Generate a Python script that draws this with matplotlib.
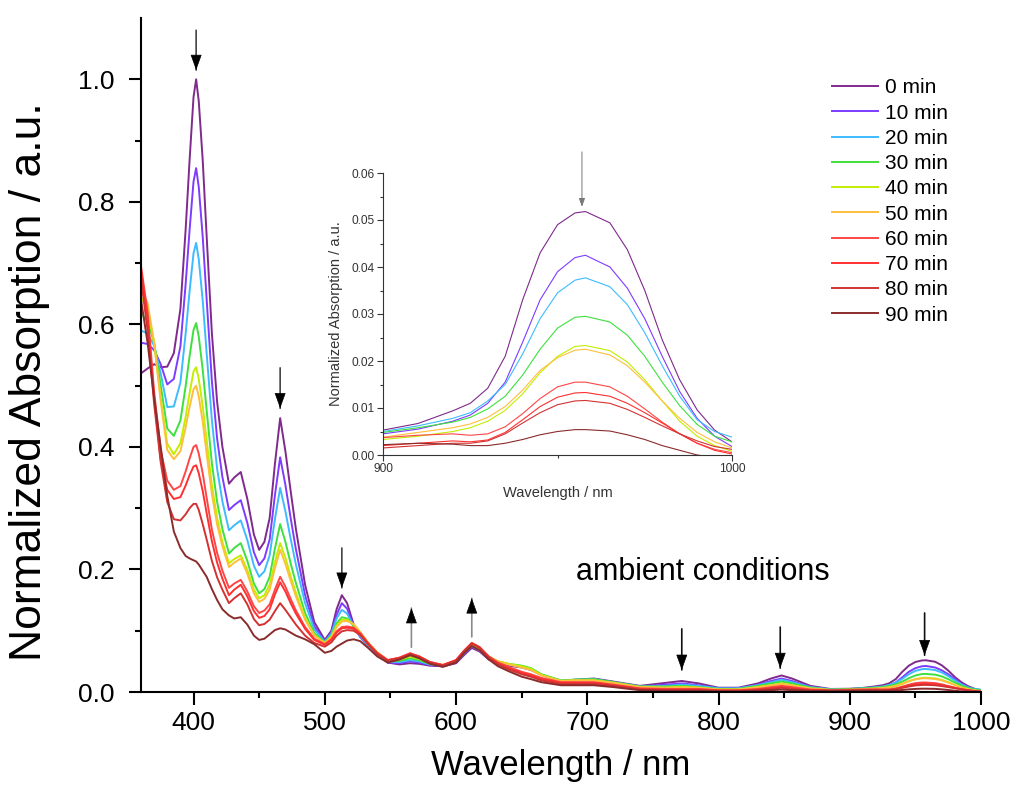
import numpy as np
import matplotlib.pyplot as plt

plt.rcParams['font.family'] = ['Liberation Sans', 'DejaVu Sans']

# wavelength grid (nm) used for the read-off values
wavelength = [360, 365, 370, 375, 380, 385,
              390, 394, 397, 400, 402, 404, 407, 410, 414, 418, 422, 427,
              431, 436, 441, 446, 450, 454, 458, 462, 466, 470, 474, 478, 485, 492, 500,
              505, 509, 513, 517, 522, 527, 533, 540, 548, 557, 565, 572, 580, 590, 600,
              606, 612, 618, 625, 632, 640, 650, 657, 665, 680,
              690, 705, 720, 740, 760, 772, 785, 800, 815, 830, 840, 848, 856, 870, 885, 900,
              910, 920, 925, 930, 935, 940, 945, 950, 955, 958, 965, 970, 975, 980, 985, 990, 995, 1000]

times = ["0 min", "10 min", "20 min", "30 min", "40 min",
         "50 min", "60 min", "70 min", "80 min", "90 min"]
colors = ["#7f2a8c", "#7d3cff", "#3cbcff", "#3ee03e", "#c2ee00",
          "#ffbf3c", "#ff4646", "#ff3030", "#d23232", "#8b2c2c"]

abs_0 = [0.52, 0.528, 0.535, 0.53, 0.531, 0.553,
         0.625, 0.755, 0.868, 0.971, 1.0, 0.964, 0.868, 0.744, 0.585, 0.473, 0.40, 0.34,
         0.35, 0.359, 0.315, 0.257, 0.232, 0.245, 0.284, 0.372, 0.447, 0.393, 0.328, 0.266, 0.175, 0.114, 0.085,
         0.1, 0.135, 0.158, 0.145, 0.11, 0.09, 0.075, 0.062, 0.048, 0.045, 0.047, 0.046, 0.043, 0.042, 0.047,
         0.06, 0.072, 0.066, 0.053, 0.047, 0.043, 0.04, 0.036, 0.028, 0.018,
         0.02, 0.022, 0.017, 0.01, 0.015, 0.018, 0.014, 0.007, 0.007, 0.014, 0.022, 0.027, 0.022, 0.01, 0.005, 0.0053,
         0.0067, 0.0094, 0.011, 0.0142, 0.021, 0.033, 0.043, 0.049, 0.0515, 0.0518, 0.0494, 0.0437, 0.035, 0.0245, 0.016, 0.0096, 0.0053, 0.0028]
abs_10 = [0.57, 0.568, 0.558, 0.535, 0.502, 0.511,
          0.564, 0.666, 0.754, 0.833, 0.855, 0.824, 0.743, 0.641, 0.507, 0.413, 0.351, 0.297,
          0.305, 0.313, 0.276, 0.228, 0.207, 0.218, 0.249, 0.321, 0.383, 0.338, 0.284, 0.233, 0.158, 0.107, 0.083,
          0.097, 0.126, 0.145, 0.136, 0.108, 0.09, 0.075, 0.062, 0.048, 0.047, 0.05, 0.048, 0.044, 0.042, 0.048,
          0.062, 0.074, 0.067, 0.054, 0.048, 0.044, 0.041, 0.037, 0.028, 0.017,
          0.019, 0.021, 0.016, 0.009, 0.012, 0.014, 0.011, 0.006, 0.006, 0.012, 0.018, 0.022, 0.018, 0.008, 0.004, 0.0045,
          0.0055, 0.0072, 0.0085, 0.011, 0.0155, 0.024, 0.033, 0.039, 0.042, 0.0425, 0.040, 0.0355, 0.029, 0.021, 0.0135, 0.0078, 0.004, 0.0018]
abs_20 = [0.59, 0.585, 0.565, 0.52, 0.465, 0.466,
          0.505, 0.585, 0.654, 0.716, 0.733, 0.706, 0.639, 0.553, 0.443, 0.364, 0.311, 0.264,
          0.272, 0.28, 0.248, 0.206, 0.188, 0.197, 0.223, 0.282, 0.333, 0.295, 0.25, 0.208, 0.145, 0.102, 0.082,
          0.095, 0.12, 0.134, 0.128, 0.107, 0.091, 0.076, 0.062, 0.049, 0.049, 0.052, 0.05, 0.045, 0.043, 0.049,
          0.063, 0.075, 0.068, 0.055, 0.049, 0.045, 0.042, 0.038, 0.028, 0.018,
          0.02, 0.021, 0.016, 0.009, 0.01, 0.012, 0.01, 0.006, 0.006, 0.011, 0.016, 0.02, 0.016, 0.008, 0.0045, 0.005,
          0.0062, 0.0078, 0.009, 0.0115, 0.015, 0.0215, 0.029, 0.0345, 0.0372, 0.0377, 0.0358, 0.032, 0.026, 0.019, 0.0125, 0.0075, 0.005, 0.0038]
abs_30 = [0.618, 0.605, 0.57, 0.5, 0.43, 0.418,
          0.443, 0.499, 0.548, 0.591, 0.602, 0.58, 0.526, 0.46, 0.373, 0.31, 0.266, 0.226,
          0.235, 0.243, 0.214, 0.177, 0.161, 0.168, 0.188, 0.234, 0.274, 0.245, 0.21, 0.178, 0.129, 0.096, 0.081,
          0.092, 0.112, 0.122, 0.12, 0.108, 0.094, 0.078, 0.063, 0.05, 0.051, 0.055, 0.052, 0.046, 0.043, 0.05,
          0.064, 0.077, 0.07, 0.057, 0.05, 0.046, 0.043, 0.039, 0.029, 0.019,
          0.02, 0.021, 0.016, 0.009, 0.009, 0.01, 0.008, 0.005, 0.005, 0.01, 0.014, 0.017, 0.014, 0.007, 0.004, 0.0048,
          0.0058, 0.007, 0.008, 0.0098, 0.0125, 0.017, 0.0225, 0.027, 0.0293, 0.0295, 0.0283, 0.0255, 0.021, 0.0155, 0.0105, 0.0065, 0.004, 0.0028]
abs_40 = [0.645, 0.625, 0.57, 0.48, 0.405, 0.388,
          0.406, 0.449, 0.488, 0.523, 0.53, 0.511, 0.466, 0.411, 0.337, 0.284, 0.245, 0.21,
          0.217, 0.223, 0.199, 0.167, 0.153, 0.158, 0.175, 0.212, 0.243, 0.219, 0.189, 0.162, 0.121, 0.093, 0.08,
          0.09, 0.108, 0.118, 0.118, 0.11, 0.097, 0.08, 0.064, 0.051, 0.053, 0.058, 0.054, 0.047, 0.044, 0.051,
          0.065, 0.078, 0.071, 0.057, 0.05, 0.046, 0.042, 0.038, 0.028, 0.018,
          0.019, 0.019, 0.015, 0.008, 0.007, 0.008, 0.007, 0.004, 0.004, 0.008, 0.011, 0.014, 0.011, 0.005, 0.003, 0.0033,
          0.004, 0.005, 0.0058, 0.0072, 0.0095, 0.013, 0.0175, 0.021, 0.0231, 0.0233, 0.0222, 0.0198, 0.016, 0.0115, 0.0072, 0.004, 0.002, 0.0008]
abs_50 = [0.66, 0.635, 0.57, 0.475, 0.395, 0.38,
          0.393, 0.432, 0.465, 0.494, 0.5, 0.482, 0.441, 0.389, 0.323, 0.273, 0.238, 0.204,
          0.211, 0.218, 0.193, 0.161, 0.147, 0.152, 0.167, 0.202, 0.232, 0.209, 0.182, 0.156, 0.118, 0.092, 0.08,
          0.089, 0.106, 0.115, 0.116, 0.111, 0.098, 0.081, 0.065, 0.052, 0.054, 0.06, 0.056, 0.048, 0.044, 0.051,
          0.066, 0.079, 0.072, 0.058, 0.05, 0.045, 0.04, 0.036, 0.027, 0.018,
          0.019, 0.019, 0.015, 0.008, 0.007, 0.008, 0.007, 0.004, 0.004, 0.008, 0.011, 0.013, 0.011, 0.006, 0.0035, 0.0038,
          0.0048, 0.0058, 0.0066, 0.008, 0.0103, 0.0138, 0.018, 0.0207, 0.0223, 0.0225, 0.0213, 0.019, 0.0155, 0.0115, 0.0078, 0.0048, 0.0028, 0.0015]
abs_60 = [0.695, 0.62, 0.49, 0.395, 0.345, 0.33,
          0.336, 0.36, 0.381, 0.4, 0.403, 0.389, 0.357, 0.317, 0.265, 0.227, 0.198, 0.17,
          0.177, 0.183, 0.164, 0.14, 0.129, 0.133, 0.143, 0.167, 0.188, 0.172, 0.152, 0.133, 0.106, 0.087, 0.078,
          0.086, 0.099, 0.106, 0.107, 0.105, 0.096, 0.08, 0.064, 0.052, 0.056, 0.063, 0.058, 0.049, 0.044, 0.052,
          0.067, 0.08, 0.073, 0.058, 0.048, 0.041, 0.033, 0.029, 0.023, 0.016,
          0.016, 0.016, 0.012, 0.006, 0.005, 0.005, 0.005, 0.003, 0.003, 0.005, 0.008, 0.01, 0.008, 0.004, 0.003, 0.0037,
          0.0042, 0.0045, 0.0042, 0.0045, 0.006, 0.0088, 0.012, 0.0145, 0.0155, 0.0155, 0.0145, 0.0125, 0.0098, 0.007, 0.0045, 0.0025, 0.0012, 0.0005]
abs_70 = [0.69, 0.61, 0.48, 0.38, 0.33, 0.315,
          0.318, 0.337, 0.354, 0.368, 0.37, 0.357, 0.328, 0.292, 0.246, 0.211, 0.185, 0.158,
          0.167, 0.175, 0.156, 0.132, 0.121, 0.124, 0.135, 0.159, 0.179, 0.164, 0.145, 0.128, 0.103, 0.085, 0.077,
          0.085, 0.097, 0.104, 0.105, 0.103, 0.095, 0.079, 0.063, 0.052, 0.056, 0.063, 0.058, 0.049, 0.044, 0.052,
          0.067, 0.08, 0.073, 0.057, 0.047, 0.039, 0.031, 0.027, 0.021, 0.015,
          0.015, 0.015, 0.011, 0.005, 0.004, 0.004, 0.004, 0.002, 0.002, 0.004, 0.006, 0.008, 0.006, 0.003, 0.002, 0.002,
          0.0025, 0.003, 0.0028, 0.0032, 0.0048, 0.0075, 0.0103, 0.0123, 0.0132, 0.0133, 0.0125, 0.011, 0.009, 0.0068, 0.0045, 0.0025, 0.001, 0.0002]
abs_80 = [0.675, 0.59, 0.47, 0.375, 0.31, 0.282,
          0.28, 0.29, 0.3, 0.307, 0.307, 0.297, 0.274, 0.249, 0.214, 0.187, 0.167, 0.145,
          0.153, 0.161, 0.143, 0.119, 0.109, 0.111, 0.118, 0.132, 0.145, 0.134, 0.122, 0.11, 0.092, 0.08, 0.074,
          0.081, 0.092, 0.099, 0.101, 0.1, 0.093, 0.078, 0.062, 0.051, 0.055, 0.062, 0.057, 0.048, 0.043, 0.051,
          0.066, 0.079, 0.072, 0.056, 0.045, 0.037, 0.029, 0.025, 0.019, 0.013,
          0.013, 0.013, 0.01, 0.004, 0.003, 0.003, 0.003, 0.002, 0.002, 0.003, 0.005, 0.007, 0.005, 0.002, 0.0015, 0.0015,
          0.002, 0.0025, 0.0025, 0.003, 0.0045, 0.0068, 0.009, 0.0107, 0.0115, 0.0116, 0.011, 0.0097, 0.008, 0.0062, 0.0045, 0.003, 0.0018, 0.0012]
abs_90 = [0.64, 0.57, 0.48, 0.40, 0.32, 0.262,
          0.235, 0.222, 0.218, 0.215, 0.213, 0.208, 0.198, 0.188, 0.168, 0.15, 0.135, 0.125,
          0.12, 0.122, 0.11, 0.092, 0.085, 0.087, 0.094, 0.101, 0.104, 0.102, 0.097, 0.092, 0.086, 0.078, 0.064,
          0.067, 0.074, 0.079, 0.084, 0.086, 0.083, 0.072, 0.058, 0.048, 0.053, 0.06, 0.055, 0.046, 0.041, 0.048,
          0.063, 0.075, 0.068, 0.053, 0.042, 0.034, 0.025, 0.021, 0.016, 0.011,
          0.011, 0.011, 0.008, 0.003, 0.002, 0.002, 0.002, 0.001, 0.001, 0.002, 0.003, 0.004, 0.003, 0.002, 0.002, 0.0022,
          0.0025, 0.0023, 0.002, 0.002, 0.0025, 0.0033, 0.0043, 0.005, 0.0054, 0.0054, 0.0051, 0.0043, 0.0033, 0.002, 0.001, 0.0, -0.0005, -0.0008]

spectra = [abs_0, abs_10, abs_20, abs_30, abs_40, abs_50, abs_60, abs_70, abs_80, abs_90]

# arrows: (wavelength, tail, tip, shaft colour)
main_arrows = [(402, 1.08, 1.015, "#444444"), (466, 0.529, 0.463, "#444444"),
               (513, 0.235, 0.170, "#444444"), (566, 0.073, 0.137, "#8a8a8a"),
               (612, 0.090, 0.153, "#8a8a8a"), (772, 0.103, 0.036, "#111111"),
               (847, 0.106, 0.039, "#111111"), (957, 0.129, 0.060, "#111111")]

wl = np.array(wavelength)

fig = plt.figure(figsize=(10.16, 8), dpi=100)
ax = fig.add_axes([0.1388, 0.135, 0.8268, 0.8425])

for lab, col, y in zip(times, colors, spectra):
    ax.plot(wl, y, color=col, lw=1.4, label=lab)

ax.set_xticks(np.arange(400, 1001, 100))
ax.set_xticks(np.arange(400, 1001, 50), minor=True)
ax.set_yticks(np.arange(0, 1.01, 0.2))
ax.set_yticks(np.arange(0, 1.01, 0.1), minor=True)
ax.set_xlim(360, 1000)
ax.set_ylim(0, 1.1)
ax.yaxis.set_major_formatter(plt.FormatStrFormatter('%.1f'))
for s in ['top', 'right']:
    ax.spines[s].set_visible(False)
for s in ['left', 'bottom']:
    ax.spines[s].set_linewidth(1.5)
ax.tick_params(which='major', direction='out', length=9, width=1.5, labelsize=19)
ax.tick_params(which='minor', direction='out', length=4.5, width=1.5)
ax.tick_params(axis='x', which='major', pad=5)
ax.tick_params(axis='y', which='major', pad=10)
ax.set_xlabel("Wavelength / nm", fontsize=25, labelpad=10)
ax.set_ylabel("Normalized Absorption / a.u.", fontsize=32)
ax.yaxis.set_label_coords(-0.108, 0.46)

for x, y0, y1, c in main_arrows:
    ax.annotate('', xy=(x, y1), xytext=(x, y0),
                arrowprops=dict(arrowstyle='-', color=c, lw=1.2, shrinkA=0, shrinkB=0))
    ax.annotate('', xy=(x, y1), xytext=(x, y1 + 0.024 * np.sign(y0 - y1)),
                arrowprops=dict(arrowstyle='-|>,head_length=10,head_width=3.6', mutation_scale=1,
                                color='black', lw=0.5, shrinkA=0, shrinkB=0))

ax.text(788, 0.196, "ambient conditions", fontsize=22, ha='center', va='center')

ax.legend(loc='upper left', bbox_to_anchor=(0.819, 0.902), bbox_transform=fig.transFigure,
          frameon=False, fontsize=15, handlelength=2.2, handletextpad=0.35,
          labelspacing=0.3, borderpad=0, borderaxespad=0)

# inset: 900-1000 nm
axin = fig.add_axes([0.377, 0.43125, 0.3435, 0.3525])
axin.patch.set_alpha(0)
sel = wl >= 900
for col, y in zip(colors, spectra):
    axin.plot(wl[sel], np.array(y)[sel], color=col, lw=0.8)
axin.set_xticks([900, 1000])
axin.set_xticks([950], minor=True)
axin.set_yticks(np.arange(0, 0.061, 0.01))
axin.set_yticks(np.arange(0, 0.061, 0.005), minor=True)
axin.set_xlim(900, 1000)
axin.set_ylim(0, 0.06)
axin.yaxis.set_major_formatter(plt.FormatStrFormatter('%.2f'))
for s in ['top', 'right']:
    axin.spines[s].set_visible(False)
for s in ['left', 'bottom']:
    axin.spines[s].set_linewidth(0.8)
    axin.spines[s].set_color('#333333')
axin.tick_params(which='major', direction='out', length=4, width=0.8, labelsize=8.6,
                 pad=2, colors='#333333')
axin.tick_params(which='minor', direction='out', length=2.5, width=0.8, colors='#333333')
axin.set_xlabel("Wavelength / nm", fontsize=10.5, color='#333333', labelpad=8)
axin.set_ylabel("Normalized Absorption / a.u.", fontsize=10.5, color='#333333', labelpad=6)
axin.annotate('', xy=(957, 0.0528), xytext=(957, 0.0645), annotation_clip=False,
              arrowprops=dict(arrowstyle='-|>,head_length=5,head_width=1.8', mutation_scale=1,
                              color='#777777', lw=0.7, shrinkA=0, shrinkB=0))

fig.savefig("out.png", dpi=100)
